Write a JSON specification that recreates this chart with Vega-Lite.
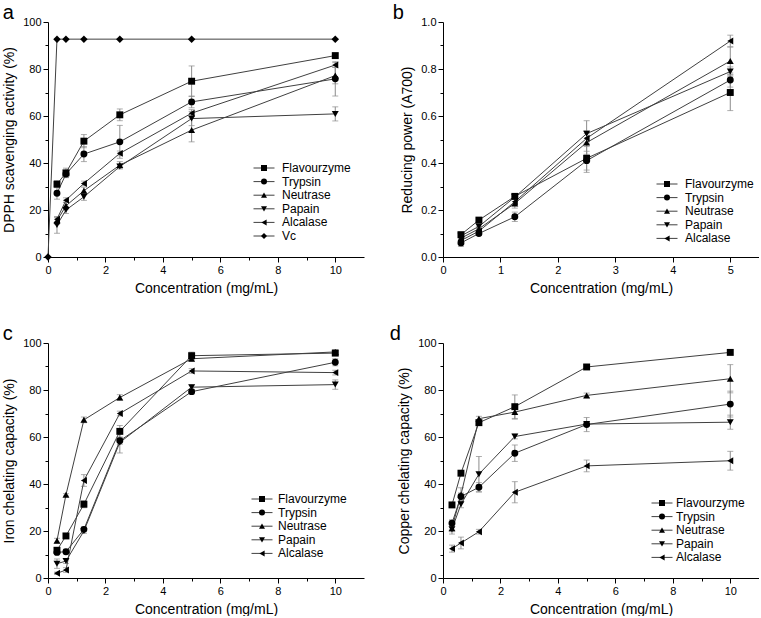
{
  "$schema": "https://vega.github.io/schema/vega-lite/v6.json",
  "background": "white",
  "padding": {"left": 2, "top": 3, "right": 0, "bottom": 0},
  "config": {
    "view": {"stroke": null},
    "font": "Liberation Sans",
    "axis": {"domainColor": "black", "tickColor": "black", "labelColor": "black", "titleColor": "black", "labelFont": "Liberation Sans", "titleFont": "Liberation Sans", "labelFontSize": 11, "titleFontSize": 14, "titleFontWeight": "normal", "grid": false, "labelPadding": 2, "titlePadding": 6, "labelFlush": false, "labelOverlap": false, "domainWidth": 1, "tickWidth": 1},
    "legend": {"labelFont": "Liberation Sans", "labelFontSize": 12, "labelColor": "black", "symbolSize": 36, "rowPadding": 1.6, "padding": 0, "symbolStrokeWidth": 1, "symbolFillColor": "black", "symbolStrokeColor": "#333", "title": null, "orient": "none"},
    "title": {"font": "Liberation Sans", "fontSize": 20, "fontWeight": "normal", "anchor": "start", "frame": "bounds", "color": "black", "offset": -7}
  },
  "datasets": {
    "a": [
      {"s": "Flavourzyme", "x": 0.3125, "y": 31.0, "e": 1.5},
      {"s": "Flavourzyme", "x": 0.625, "y": 35.8, "e": 2.0},
      {"s": "Flavourzyme", "x": 1.25, "y": 49.3, "e": 2.8},
      {"s": "Flavourzyme", "x": 2.5, "y": 60.5, "e": 2.5},
      {"s": "Flavourzyme", "x": 5, "y": 74.8, "e": 6.5},
      {"s": "Flavourzyme", "x": 10, "y": 85.7, "e": 1.0},
      {"s": "Trypsin", "x": 0.3125, "y": 27.1, "e": 2.5},
      {"s": "Trypsin", "x": 0.625, "y": 35.3, "e": 1.5},
      {"s": "Trypsin", "x": 1.25, "y": 43.8, "e": 3.2},
      {"s": "Trypsin", "x": 2.5, "y": 49.0, "e": 7.0},
      {"s": "Trypsin", "x": 5, "y": 66.0, "e": 2.5},
      {"s": "Trypsin", "x": 10, "y": 75.8, "e": 7.3},
      {"s": "Neutrase", "x": 0.3125, "y": 15.4, "e": 1.5},
      {"s": "Neutrase", "x": 0.625, "y": 21.8, "e": 1.5},
      {"s": "Neutrase", "x": 1.25, "y": 28.2, "e": 1.5},
      {"s": "Neutrase", "x": 2.5, "y": 39.1, "e": 1.5},
      {"s": "Neutrase", "x": 5, "y": 54.0, "e": 5.0},
      {"s": "Neutrase", "x": 10, "y": 77.2, "e": 3.5},
      {"s": "Papain", "x": 0.3125, "y": 13.6, "e": 3.5},
      {"s": "Papain", "x": 0.625, "y": 20.0, "e": 1.5},
      {"s": "Papain", "x": 1.25, "y": 25.6, "e": 1.5},
      {"s": "Papain", "x": 2.5, "y": 38.5, "e": 1.0},
      {"s": "Papain", "x": 5, "y": 58.9, "e": 3.0},
      {"s": "Papain", "x": 10, "y": 60.9, "e": 3.0},
      {"s": "Alcalase", "x": 0.3125, "y": 16.1, "e": 1.0},
      {"s": "Alcalase", "x": 0.625, "y": 24.2, "e": 1.0},
      {"s": "Alcalase", "x": 1.25, "y": 31.3, "e": 1.0},
      {"s": "Alcalase", "x": 2.5, "y": 44.1, "e": 1.0},
      {"s": "Alcalase", "x": 5, "y": 61.2, "e": 1.5},
      {"s": "Alcalase", "x": 10, "y": 81.7, "e": 1.0},
      {"s": "Vc", "x": 0, "y": 0, "e": 0},
      {"s": "Vc", "x": 0.3125, "y": 92.7, "e": 0},
      {"s": "Vc", "x": 0.625, "y": 92.7, "e": 0},
      {"s": "Vc", "x": 1.25, "y": 92.7, "e": 0},
      {"s": "Vc", "x": 2.5, "y": 92.7, "e": 0},
      {"s": "Vc", "x": 5, "y": 92.7, "e": 0},
      {"s": "Vc", "x": 10, "y": 92.7, "e": 0}
    ],
    "b": [
      {"s": "Flavourzyme", "x": 0.3125, "y": 0.095, "e": 0.01},
      {"s": "Flavourzyme", "x": 0.625, "y": 0.157, "e": 0.008},
      {"s": "Flavourzyme", "x": 1.25, "y": 0.258, "e": 0.01},
      {"s": "Flavourzyme", "x": 2.5, "y": 0.42, "e": 0.06},
      {"s": "Flavourzyme", "x": 5, "y": 0.70, "e": 0.077},
      {"s": "Trypsin", "x": 0.3125, "y": 0.060, "e": 0.015},
      {"s": "Trypsin", "x": 0.625, "y": 0.100, "e": 0.008},
      {"s": "Trypsin", "x": 1.25, "y": 0.171, "e": 0.02},
      {"s": "Trypsin", "x": 2.5, "y": 0.41, "e": 0.04},
      {"s": "Trypsin", "x": 5, "y": 0.753, "e": 0.03},
      {"s": "Neutrase", "x": 0.3125, "y": 0.08, "e": 0.01},
      {"s": "Neutrase", "x": 0.625, "y": 0.12, "e": 0.01},
      {"s": "Neutrase", "x": 1.25, "y": 0.228, "e": 0.02},
      {"s": "Neutrase", "x": 2.5, "y": 0.487, "e": 0.05},
      {"s": "Neutrase", "x": 5, "y": 0.834, "e": 0.06},
      {"s": "Papain", "x": 0.3125, "y": 0.09, "e": 0.01},
      {"s": "Papain", "x": 0.625, "y": 0.13, "e": 0.01},
      {"s": "Papain", "x": 1.25, "y": 0.255, "e": 0.01},
      {"s": "Papain", "x": 2.5, "y": 0.525, "e": 0.055},
      {"s": "Papain", "x": 5, "y": 0.789, "e": 0.02},
      {"s": "Alcalase", "x": 0.3125, "y": 0.07, "e": 0.01},
      {"s": "Alcalase", "x": 0.625, "y": 0.11, "e": 0.01},
      {"s": "Alcalase", "x": 1.25, "y": 0.235, "e": 0.01},
      {"s": "Alcalase", "x": 2.5, "y": 0.505, "e": 0.02},
      {"s": "Alcalase", "x": 5, "y": 0.919, "e": 0.025}
    ],
    "c": [
      {"s": "Flavourzyme", "x": 0.3125, "y": 11.8, "e": 1},
      {"s": "Flavourzyme", "x": 0.625, "y": 17.9, "e": 1},
      {"s": "Flavourzyme", "x": 1.25, "y": 31.4, "e": 1.5},
      {"s": "Flavourzyme", "x": 2.5, "y": 62.4, "e": 2.5},
      {"s": "Flavourzyme", "x": 5, "y": 94.6, "e": 1.5},
      {"s": "Flavourzyme", "x": 10, "y": 95.7, "e": 1},
      {"s": "Trypsin", "x": 0.3125, "y": 10.9, "e": 1},
      {"s": "Trypsin", "x": 0.625, "y": 11.2, "e": 1},
      {"s": "Trypsin", "x": 1.25, "y": 20.7, "e": 1},
      {"s": "Trypsin", "x": 2.5, "y": 58.4, "e": 1.5},
      {"s": "Trypsin", "x": 5, "y": 79.3, "e": 1},
      {"s": "Trypsin", "x": 10, "y": 91.8, "e": 1.5},
      {"s": "Neutrase", "x": 0.3125, "y": 15.9, "e": 1},
      {"s": "Neutrase", "x": 0.625, "y": 35.4, "e": 0.5},
      {"s": "Neutrase", "x": 1.25, "y": 67.3, "e": 1.2},
      {"s": "Neutrase", "x": 2.5, "y": 76.8, "e": 1.2},
      {"s": "Neutrase", "x": 5, "y": 93.3, "e": 1},
      {"s": "Neutrase", "x": 10, "y": 96.2, "e": 1},
      {"s": "Papain", "x": 0.3125, "y": 6.1, "e": 2},
      {"s": "Papain", "x": 0.625, "y": 7.2, "e": 1},
      {"s": "Papain", "x": 1.25, "y": 20.0, "e": 1},
      {"s": "Papain", "x": 2.5, "y": 57.7, "e": 4.5},
      {"s": "Papain", "x": 5, "y": 81.2, "e": 1},
      {"s": "Papain", "x": 10, "y": 82.3, "e": 2},
      {"s": "Alcalase", "x": 0.3125, "y": 2.0, "e": 0.5},
      {"s": "Alcalase", "x": 0.625, "y": 3.4, "e": 1},
      {"s": "Alcalase", "x": 1.25, "y": 41.5, "e": 2.5},
      {"s": "Alcalase", "x": 2.5, "y": 70.0, "e": 1},
      {"s": "Alcalase", "x": 5, "y": 88.1, "e": 1},
      {"s": "Alcalase", "x": 10, "y": 87.4, "e": 1}
    ],
    "d": [
      {"s": "Flavourzyme", "x": 0.3125, "y": 31.1, "e": 1},
      {"s": "Flavourzyme", "x": 0.625, "y": 44.6, "e": 1},
      {"s": "Flavourzyme", "x": 1.25, "y": 66.1, "e": 1},
      {"s": "Flavourzyme", "x": 2.5, "y": 72.9, "e": 5},
      {"s": "Flavourzyme", "x": 5, "y": 89.8, "e": 1},
      {"s": "Flavourzyme", "x": 10, "y": 96.0, "e": 1},
      {"s": "Trypsin", "x": 0.3125, "y": 23.3, "e": 1.5},
      {"s": "Trypsin", "x": 0.625, "y": 34.7, "e": 1.5},
      {"s": "Trypsin", "x": 1.25, "y": 38.6, "e": 2},
      {"s": "Trypsin", "x": 2.5, "y": 53.1, "e": 3.5},
      {"s": "Trypsin", "x": 5, "y": 65.3, "e": 3},
      {"s": "Trypsin", "x": 10, "y": 74.0, "e": 5.5},
      {"s": "Neutrase", "x": 0.3125, "y": 21.2, "e": 1.5},
      {"s": "Neutrase", "x": 0.625, "y": 35.4, "e": 3},
      {"s": "Neutrase", "x": 1.25, "y": 67.8, "e": 1},
      {"s": "Neutrase", "x": 2.5, "y": 70.6, "e": 3},
      {"s": "Neutrase", "x": 5, "y": 77.7, "e": 1},
      {"s": "Neutrase", "x": 10, "y": 84.8, "e": 6},
      {"s": "Papain", "x": 0.3125, "y": 20.7, "e": 2},
      {"s": "Papain", "x": 0.625, "y": 31.4, "e": 1.5},
      {"s": "Papain", "x": 1.25, "y": 44.2, "e": 7.5},
      {"s": "Papain", "x": 2.5, "y": 60.2, "e": 1},
      {"s": "Papain", "x": 5, "y": 65.5, "e": 1},
      {"s": "Papain", "x": 10, "y": 66.3, "e": 3},
      {"s": "Alcalase", "x": 0.3125, "y": 12.5, "e": 1.5},
      {"s": "Alcalase", "x": 0.625, "y": 14.9, "e": 2.5},
      {"s": "Alcalase", "x": 1.25, "y": 19.7, "e": 1},
      {"s": "Alcalase", "x": 2.5, "y": 36.5, "e": 4.5},
      {"s": "Alcalase", "x": 5, "y": 47.7, "e": 2.5},
      {"s": "Alcalase", "x": 10, "y": 49.9, "e": 4}
    ]
  },
  "columns": 2,
  "bounds": "flush",
  "spacing": {"row": 86, "column": 79},
  "resolve": {"scale": {"shape": "independent", "color": "independent", "x": "independent", "y": "independent"}, "legend": {"shape": "independent", "color": "independent"}, "axis": {"x": "independent", "y": "independent"}},
  "concat": [
    {
      "title": {"text": "a"},
      "width": 316, "height": 235,
      "data": {"name": "a"},
      "encoding": {
        "x": {"field": "x", "type": "quantitative", "scale": {"domain": [0, 11], "nice": false, "zero": false}, "axis": {"title": "Concentration (mg/mL)", "values": [0,1,2,3,4,5,6,7,8,9,10], "labelExpr": "datum.value % 2 === 0 ? datum.label : ''", "tickSize": {"condition": {"test": "datum.value % 2 === 0", "value": 5}, "value": 3}}},
        "y": {"field": "y", "type": "quantitative", "scale": {"domain": [0, 100], "nice": false}, "axis": {"title": "DPPH scavenging activity (%)", "values": [0,10,20,30,40,50,60,70,80,90,100], "labelExpr": "datum.value % 20 === 0 ? datum.label : ''", "tickSize": {"condition": {"test": "datum.value % 20 === 0", "value": 5}, "value": 3}}}
      },
      "layer": [
        {"mark": {"type": "errorbar", "ticks": {"size": 6}, "color": "#8c8c8c", "thickness": 1}, "encoding": {"yError": {"field": "e"}}},
        {"mark": {"type": "line", "color": "#404040", "strokeWidth": 1}, "encoding": {"detail": {"field": "s", "type": "nominal"}}},
        {"mark": {"type": "line", "strokeWidth": 1, "opacity": 0},
         "encoding": {"color": {"field": "s", "type": "nominal", "sort": null,
           "scale": {"range": ["#404040"]},
           "legend": {"legendX": 202.5, "legendY": 140, "symbolType": "M-1,0L6,0", "symbolSize": 36, "symbolStrokeWidth": 1, "symbolOpacity": 1, "labelOpacity": 0, "labelExpr": "' '", "labelOffset": 12}}}},
        {"transform": [{"filter": "datum.s === 'Flavourzyme'"}], "mark": {"type": "point", "shape": "square", "filled": true, "color": "black", "opacity": 1, "size": 48}},
        {"transform": [{"filter": "datum.s === 'Trypsin'"}], "mark": {"type": "point", "shape": "circle", "filled": true, "color": "black", "opacity": 1, "size": 48}},
        {"transform": [{"filter": "datum.s === 'Neutrase'"}], "mark": {"type": "point", "shape": "triangle-up", "filled": true, "color": "black", "opacity": 1, "size": 48}},
        {"transform": [{"filter": "datum.s === 'Papain'"}], "mark": {"type": "point", "shape": "triangle-down", "filled": true, "color": "black", "opacity": 1, "size": 48}},
        {"transform": [{"filter": "datum.s === 'Alcalase'"}], "mark": {"type": "point", "shape": "triangle-left", "filled": true, "color": "black", "opacity": 1, "size": 48}},
        {"transform": [{"filter": "datum.s === 'Vc'"}], "mark": {"type": "point", "shape": "diamond", "filled": true, "color": "black", "opacity": 1, "size": 56}},
        {"transform": [{"filter": "false"}],
         "mark": {"type": "point", "filled": true, "color": "black", "opacity": 1, "size": 36},
         "encoding": {"shape": {"field": "s", "type": "nominal", "sort": null,
           "scale": {"domain": ["Flavourzyme", "Trypsin", "Neutrase", "Papain", "Alcalase", "Vc"], "range": ["square", "circle", "triangle-up", "triangle-down", "triangle-left", "diamond"]},
           "legend": {"legendX": 210, "legendY": 140, "labelOffset": 12}}}}
      ]
    },
    {
      "title": {"text": "b", "dx": -8},
      "width": 316, "height": 235,
      "data": {"name": "b"},
      "encoding": {
        "x": {"field": "x", "type": "quantitative", "scale": {"domain": [0, 5.5], "nice": false, "zero": false}, "axis": {"title": "Concentration (mg/mL)", "format": "d", "values": [0,0.5,1,1.5,2,2.5,3,3.5,4,4.5,5], "labelExpr": "datum.value % 1 === 0 ? datum.label : ''", "tickSize": {"condition": {"test": "datum.value % 1 === 0", "value": 5}, "value": 3}}},
        "y": {"field": "y", "type": "quantitative", "scale": {"domain": [0, 1], "nice": false}, "axis": {"title": "Reducing power (A700)", "format": ".1f", "values": [0,0.1,0.2,0.3,0.4,0.5,0.6,0.7,0.8,0.9,1.0], "labelExpr": "round(datum.value * 10) % 2 === 0 ? datum.label : ''", "tickSize": {"condition": {"test": "round(datum.value * 10) % 2 === 0", "value": 5}, "value": 3}}}
      },
      "layer": [
        {"mark": {"type": "errorbar", "ticks": {"size": 6}, "color": "#8c8c8c", "thickness": 1}, "encoding": {"yError": {"field": "e"}}},
        {"mark": {"type": "line", "color": "#404040", "strokeWidth": 1}, "encoding": {"detail": {"field": "s", "type": "nominal"}}},
        {"mark": {"type": "line", "strokeWidth": 1, "opacity": 0},
         "encoding": {"color": {"field": "s", "type": "nominal", "sort": null,
           "scale": {"range": ["#404040"]},
           "legend": {"legendX": 210.5, "legendY": 156, "symbolType": "M-1,0L6,0", "symbolSize": 36, "symbolStrokeWidth": 1, "symbolOpacity": 1, "labelOpacity": 0, "labelExpr": "' '", "labelOffset": 12}}}},
        {"transform": [{"filter": "datum.s === 'Flavourzyme'"}], "mark": {"type": "point", "shape": "square", "filled": true, "color": "black", "opacity": 1, "size": 48}},
        {"transform": [{"filter": "datum.s === 'Trypsin'"}], "mark": {"type": "point", "shape": "circle", "filled": true, "color": "black", "opacity": 1, "size": 48}},
        {"transform": [{"filter": "datum.s === 'Neutrase'"}], "mark": {"type": "point", "shape": "triangle-up", "filled": true, "color": "black", "opacity": 1, "size": 48}},
        {"transform": [{"filter": "datum.s === 'Papain'"}], "mark": {"type": "point", "shape": "triangle-down", "filled": true, "color": "black", "opacity": 1, "size": 48}},
        {"transform": [{"filter": "datum.s === 'Alcalase'"}], "mark": {"type": "point", "shape": "triangle-left", "filled": true, "color": "black", "opacity": 1, "size": 48}},
        {"transform": [{"filter": "false"}],
         "mark": {"type": "point", "filled": true, "color": "black", "opacity": 1, "size": 36},
         "encoding": {"shape": {"field": "s", "type": "nominal", "sort": null,
           "scale": {"domain": ["Flavourzyme", "Trypsin", "Neutrase", "Papain", "Alcalase"], "range": ["square", "circle", "triangle-up", "triangle-down", "triangle-left"]},
           "legend": {"legendX": 218, "legendY": 156, "labelOffset": 12}}}}
      ]
    },
    {
      "title": {"text": "c"},
      "width": 316, "height": 235,
      "data": {"name": "c"},
      "encoding": {
        "x": {"field": "x", "type": "quantitative", "scale": {"domain": [0, 11], "nice": false, "zero": false}, "axis": {"title": "Concentration (mg/mL)", "values": [0,1,2,3,4,5,6,7,8,9,10], "labelExpr": "datum.value % 2 === 0 ? datum.label : ''", "tickSize": {"condition": {"test": "datum.value % 2 === 0", "value": 5}, "value": 3}}},
        "y": {"field": "y", "type": "quantitative", "scale": {"domain": [0, 100], "nice": false}, "axis": {"title": "Iron chelating capacity (%)", "values": [0,10,20,30,40,50,60,70,80,90,100], "labelExpr": "datum.value % 20 === 0 ? datum.label : ''", "tickSize": {"condition": {"test": "datum.value % 20 === 0", "value": 5}, "value": 3}}}
      },
      "layer": [
        {"mark": {"type": "errorbar", "ticks": {"size": 6}, "color": "#8c8c8c", "thickness": 1}, "encoding": {"yError": {"field": "e"}}},
        {"mark": {"type": "line", "color": "#404040", "strokeWidth": 1}, "encoding": {"detail": {"field": "s", "type": "nominal"}}},
        {"mark": {"type": "line", "strokeWidth": 1, "opacity": 0},
         "encoding": {"color": {"field": "s", "type": "nominal", "sort": null,
           "scale": {"range": ["#404040"]},
           "legend": {"legendX": 200.5, "legendY": 150, "symbolType": "M-1,0L6,0", "symbolSize": 36, "symbolStrokeWidth": 1, "symbolOpacity": 1, "labelOpacity": 0, "labelExpr": "' '", "labelOffset": 10}}}},
        {"transform": [{"filter": "datum.s === 'Flavourzyme'"}], "mark": {"type": "point", "shape": "square", "filled": true, "color": "black", "opacity": 1, "size": 48}},
        {"transform": [{"filter": "datum.s === 'Trypsin'"}], "mark": {"type": "point", "shape": "circle", "filled": true, "color": "black", "opacity": 1, "size": 48}},
        {"transform": [{"filter": "datum.s === 'Neutrase'"}], "mark": {"type": "point", "shape": "triangle-up", "filled": true, "color": "black", "opacity": 1, "size": 48}},
        {"transform": [{"filter": "datum.s === 'Papain'"}], "mark": {"type": "point", "shape": "triangle-down", "filled": true, "color": "black", "opacity": 1, "size": 48}},
        {"transform": [{"filter": "datum.s === 'Alcalase'"}], "mark": {"type": "point", "shape": "triangle-left", "filled": true, "color": "black", "opacity": 1, "size": 48}},
        {"transform": [{"filter": "false"}],
         "mark": {"type": "point", "filled": true, "color": "black", "opacity": 1, "size": 36},
         "encoding": {"shape": {"field": "s", "type": "nominal", "sort": null,
           "scale": {"domain": ["Flavourzyme", "Trypsin", "Neutrase", "Papain", "Alcalase"], "range": ["square", "circle", "triangle-up", "triangle-down", "triangle-left"]},
           "legend": {"legendX": 208, "legendY": 150, "labelOffset": 10}}}}
      ]
    },
    {
      "title": {"text": "d", "dx": -8},
      "width": 316, "height": 235,
      "data": {"name": "d"},
      "encoding": {
        "x": {"field": "x", "type": "quantitative", "scale": {"domain": [0, 11], "nice": false, "zero": false}, "axis": {"title": "Concentration (mg/mL)", "values": [0,1,2,3,4,5,6,7,8,9,10], "labelExpr": "datum.value % 2 === 0 ? datum.label : ''", "tickSize": {"condition": {"test": "datum.value % 2 === 0", "value": 5}, "value": 3}}},
        "y": {"field": "y", "type": "quantitative", "scale": {"domain": [0, 100], "nice": false}, "axis": {"title": "Copper chelating capacity (%)", "values": [0,10,20,30,40,50,60,70,80,90,100], "labelExpr": "datum.value % 20 === 0 ? datum.label : ''", "tickSize": {"condition": {"test": "datum.value % 20 === 0", "value": 5}, "value": 3}}}
      },
      "layer": [
        {"mark": {"type": "errorbar", "ticks": {"size": 6}, "color": "#8c8c8c", "thickness": 1}, "encoding": {"yError": {"field": "e"}}},
        {"mark": {"type": "line", "color": "#404040", "strokeWidth": 1}, "encoding": {"detail": {"field": "s", "type": "nominal"}}},
        {"mark": {"type": "line", "strokeWidth": 1, "opacity": 0},
         "encoding": {"color": {"field": "s", "type": "nominal", "sort": null,
           "scale": {"range": ["#404040"]},
           "legend": {"legendX": 205.5, "legendY": 154, "symbolType": "M-1,0L6,0", "symbolSize": 36, "symbolStrokeWidth": 1, "symbolOpacity": 1, "labelOpacity": 0, "labelExpr": "' '", "labelOffset": 8}}}},
        {"transform": [{"filter": "datum.s === 'Flavourzyme'"}], "mark": {"type": "point", "shape": "square", "filled": true, "color": "black", "opacity": 1, "size": 48}},
        {"transform": [{"filter": "datum.s === 'Trypsin'"}], "mark": {"type": "point", "shape": "circle", "filled": true, "color": "black", "opacity": 1, "size": 48}},
        {"transform": [{"filter": "datum.s === 'Neutrase'"}], "mark": {"type": "point", "shape": "triangle-up", "filled": true, "color": "black", "opacity": 1, "size": 48}},
        {"transform": [{"filter": "datum.s === 'Papain'"}], "mark": {"type": "point", "shape": "triangle-down", "filled": true, "color": "black", "opacity": 1, "size": 48}},
        {"transform": [{"filter": "datum.s === 'Alcalase'"}], "mark": {"type": "point", "shape": "triangle-left", "filled": true, "color": "black", "opacity": 1, "size": 48}},
        {"transform": [{"filter": "false"}],
         "mark": {"type": "point", "filled": true, "color": "black", "opacity": 1, "size": 36},
         "encoding": {"shape": {"field": "s", "type": "nominal", "sort": null,
           "scale": {"domain": ["Flavourzyme", "Trypsin", "Neutrase", "Papain", "Alcalase"], "range": ["square", "circle", "triangle-up", "triangle-down", "triangle-left"]},
           "legend": {"legendX": 213, "legendY": 154, "labelOffset": 8}}}}
      ]
    }
  ]
}
